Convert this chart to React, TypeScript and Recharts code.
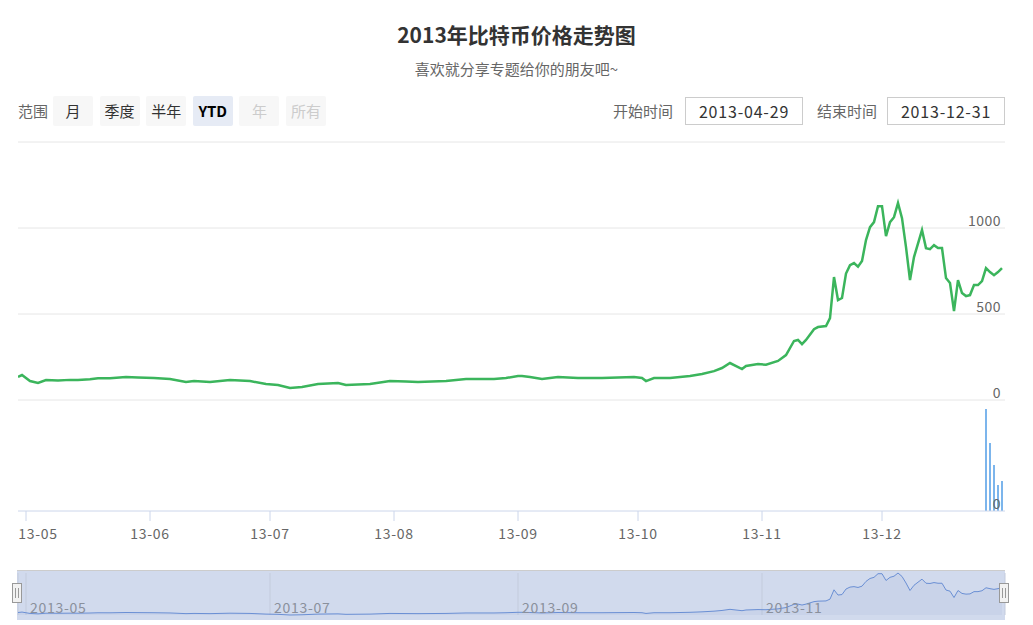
import React from 'react';
import {
  LineChart, Line, BarChart, Bar, AreaChart, Area, XAxis, YAxis, CartesianGrid,
} from 'recharts';

const FONT = '"Microsoft YaHei", "Noto Sans CJK SC", "Noto Sans", sans-serif';

// daily close (USD)
const dates = [
  '2013-04-29', '2013-04-30', '2013-05-02', '2013-05-04', '2013-05-06', '2013-05-09', '2013-05-12',
  '2013-05-14', '2013-05-17', '2013-05-19', '2013-05-22', '2013-05-26', '2013-05-29', '2013-06-02',
  '2013-06-06', '2013-06-10', '2013-06-12', '2013-06-16', '2013-06-21', '2013-06-26', '2013-06-30',
  '2013-07-03', '2013-07-06', '2013-07-09', '2013-07-13', '2013-07-18', '2013-07-20', '2013-07-26',
  '2013-07-31', '2013-08-04', '2013-08-07', '2013-08-14', '2013-08-19', '2013-08-26', '2013-08-29',
  '2013-09-01', '2013-09-02', '2013-09-04', '2013-09-07', '2013-09-11', '2013-09-16', '2013-09-22',
  '2013-09-26', '2013-09-30', '2013-10-02', '2013-10-03', '2013-10-05', '2013-10-09', '2013-10-14',
  '2013-10-17', '2013-10-20', '2013-10-22', '2013-10-24', '2013-10-27', '2013-10-28', '2013-10-31',
  '2013-11-02', '2013-11-05', '2013-11-07', '2013-11-09', '2013-11-10', '2013-11-11', '2013-11-12',
  '2013-11-14', '2013-11-15', '2013-11-17', '2013-11-18', '2013-11-19', '2013-11-20', '2013-11-21',
  '2013-11-22', '2013-11-23', '2013-11-24', '2013-11-25', '2013-11-26', '2013-11-27', '2013-11-28',
  '2013-11-29', '2013-11-30', '2013-12-01', '2013-12-02', '2013-12-03', '2013-12-04', '2013-12-05',
  '2013-12-06', '2013-12-07', '2013-12-08', '2013-12-09', '2013-12-11', '2013-12-12', '2013-12-13',
  '2013-12-14', '2013-12-15', '2013-12-16', '2013-12-17', '2013-12-18', '2013-12-19', '2013-12-20',
  '2013-12-21', '2013-12-22', '2013-12-23', '2013-12-24', '2013-12-25', '2013-12-26', '2013-12-27',
  '2013-12-28', '2013-12-29', '2013-12-30', '2013-12-31',
];
const prices = [
  134, 145, 110, 99, 116, 114, 117,
  116, 121, 127, 126, 134, 131, 128,
  122, 105, 110, 105, 116, 110, 93,
  87, 70, 76, 93, 99, 87, 93,
  110, 107, 105, 110, 122, 122, 128,
  139, 139, 134, 122, 134, 128, 128,
  131, 134, 128, 110, 128, 128, 139,
  151, 168, 186, 215, 180, 198, 209,
  205, 227, 261, 343, 349, 325, 349,
  412, 424, 430, 476, 715, 581, 593,
  735, 784, 796, 775, 808, 930, 1005,
  1034, 1127, 1127, 953, 1034, 1063, 1145,
  1057, 889, 697, 831, 988, 883, 877,
  900, 883, 883, 709, 680, 517, 697,
  622, 604, 610, 668, 668, 691, 767,
  744, 726, 744, 767,
];

const volumeDates = ['2013-12-27', '2013-12-28', '2013-12-29', '2013-12-30', '2013-12-31'];
const volumes = [9360, 6240, 4220, 2390, 2750];

const monthTicks = [
  '2013-05-01', '2013-06-01', '2013-07-01', '2013-08-01',
  '2013-09-01', '2013-10-01', '2013-11-01', '2013-12-01',
];
const navTicks = ['2013-05-01', '2013-07-01', '2013-09-01', '2013-11-01'];
const priceTicks = [0, 500, 1000, 1500];
const volumeTicks = [0];

const rangeButtons = ['月', '季度', '半年', 'YTD', '年', '所有'];
const selectedButton = 'YTD';
const disabledButtons = ['年', '所有'];
const startDate = '2013-04-29';
const endDate = '2013-12-31';

const PLOT_LEFT = 18;
const PLOT_RIGHT = 1005;

const t = (d: string) => Date.parse(d);
const priceData = dates.map((d, i) => ({ t: t(d), price: prices[i] }));
const volumeData = volumeDates.map((d, i) => ({ t: t(d), volume: volumes[i] }));
const X_DOMAIN = [t(startDate), t(endDate) + 18 * 3600 * 1000];

const pad = (n: number) => (n < 10 ? '0' + n : '' + n);

const AxisLabelRight = (props: any) => {
  const { y, payload } = props;
  if (payload.value >= 1500) return <g />;
  return (
    <text x={PLOT_RIGHT - 4} y={y - 7} dy={5} textAnchor="end" fill="#666" fontSize={14}
      fontFamily={FONT} letterSpacing={0.5}>
      {payload.value}
    </text>
  );
};

const MonthTick = (props: any) => {
  const { x, y, payload } = props;
  const d = new Date(payload.value);
  const label = String(d.getUTCFullYear()).slice(2) + '-' + pad(d.getUTCMonth() + 1);
  const cx = Math.max(x, PLOT_LEFT + 20);
  return (
    <text x={cx} y={y} dy={14} textAnchor="middle" fill="#666" fontSize={14} fontFamily={FONT}
      letterSpacing={0.7}>
      {label}
    </text>
  );
};

const NavTick = (props: any) => {
  const { x, y, payload } = props;
  const d = new Date(payload.value);
  const label = d.getUTCFullYear() + '-' + pad(d.getUTCMonth() + 1);
  return (
    <text x={x + 4} y={y - 2} textAnchor="start" fill="#8a909c" fontSize={14} fontFamily={FONT}
      letterSpacing={0.7}>
      {label}
    </text>
  );
};

const Handle = ({ x }: { x: number }) => (
  <g>
    <rect x={x - 4.5} y={583.5} width={9} height={19} fill="#f2f2f2" stroke="#999" />
    <line x1={x - 1.5} y1={588} x2={x - 1.5} y2={598} stroke="#999" />
    <line x1={x + 1.5} y1={588} x2={x + 1.5} y2={598} stroke="#999" />
  </g>
);

export default function App() {
  return (
    <div style={{ position: 'absolute', left: 0, top: 0, width: 1033, height: 625, background: '#fff', fontFamily: FONT, overflow: 'hidden' }}>
      <div style={{ position: 'absolute', left: 0, width: 1033, top: 19, textAlign: 'center', fontSize: 21, fontWeight: 'bold', color: '#333' }}>
        2013年比特币价格走势图
      </div>
      <div style={{ position: 'absolute', left: 0, width: 1033, top: 58, textAlign: 'center', fontSize: 15, color: '#666' }}>
        喜欢就分享专题给你的朋友吧~
      </div>

      {/* range selector */}
      <div style={{ position: 'absolute', left: 18, top: 100, fontSize: 15, color: '#666' }}>范围</div>
      {rangeButtons.map((b, i) => {
        const sel = b === selectedButton;
        const dis = disabledButtons.includes(b);
        return (
          <div key={b} style={{
            position: 'absolute', left: 53 + i * 46.6, top: 96, width: 40, height: 30, lineHeight: '30px',
            textAlign: 'center', fontSize: 15, borderRadius: 2,
            background: sel ? '#e6ebf5' : '#f7f7f7',
            color: dis ? '#cccccc' : sel ? '#000' : '#333',
            fontWeight: sel ? 'bold' : 'normal',
          }}>{b}</div>
        );
      })}

      <div style={{ position: 'absolute', left: 613, top: 100, fontSize: 15, color: '#666' }}>开始时间</div>
      <div style={{ position: 'absolute', left: 685, top: 97, width: 116, height: 26, border: '1px solid #ccc', textAlign: 'center', lineHeight: '26px', fontSize: 16, letterSpacing: 0.8, color: '#333' }}>{startDate}</div>
      <div style={{ position: 'absolute', left: 817, top: 100, fontSize: 15, color: '#666' }}>结束时间</div>
      <div style={{ position: 'absolute', left: 887, top: 97, width: 116, height: 26, border: '1px solid #ccc', textAlign: 'center', lineHeight: '26px', fontSize: 16, letterSpacing: 0.8, color: '#333' }}>{endDate}</div>

      {/* price panel */}
      <div style={{ position: 'absolute', left: 0, top: 0 }}>
        <LineChart width={1033} height={410} data={priceData} margin={{ top: 142, right: 1033 - PLOT_RIGHT - 1, left: PLOT_LEFT, bottom: 10 }}>
          <CartesianGrid vertical={false} stroke="#e6e6e6" />
          <XAxis dataKey="t" type="number" domain={X_DOMAIN} hide allowDataOverflow />
          <YAxis orientation="right" width={1} domain={[0, 1500]} ticks={priceTicks} interval={0}
            axisLine={false} tickLine={false} tick={<AxisLabelRight />} />
          <Line type="linear" dataKey="price" stroke="#3bb55c" strokeWidth={2.5} dot={false} isAnimationActive={false} />
        </LineChart>
      </div>

      {/* volume panel + x axis */}
      <div style={{ position: 'absolute', left: 0, top: 0 }}>
        <BarChart width={1033} height={560} data={volumeData} margin={{ top: 402, right: 1033 - PLOT_RIGHT - 1, left: PLOT_LEFT, bottom: 0 }}>
          <XAxis dataKey="t" type="number" domain={X_DOMAIN} ticks={monthTicks.map(t)} height={49}
            axisLine={{ stroke: '#ccd6eb' }} tickLine={{ stroke: '#ccd6eb' }} tickSize={10} tickMargin={4}
            tick={<MonthTick />} interval={0} allowDataOverflow />
          <YAxis orientation="right" width={1} domain={[0, 10000]} ticks={volumeTicks} interval={0}
            axisLine={false} tickLine={false} tick={<AxisLabelRight />} />
          <Bar dataKey="volume" fill="#7cb5ec" barSize={2} isAnimationActive={false} />
        </BarChart>
      </div>

      {/* navigator */}
      <div style={{ position: 'absolute', left: 17, top: 570, width: 988, height: 50, background: '#d1daed', borderTop: '1px solid #cccccc', boxSizing: 'border-box' }} />
      <div style={{ position: 'absolute', left: 0, top: 570 }}>
        <AreaChart width={1033} height={50} data={priceData} margin={{ top: 3, right: 1033 - PLOT_RIGHT - 1, left: PLOT_LEFT, bottom: 4 }}>
          <CartesianGrid horizontal={false} stroke="#c3cbdc" />
          <XAxis dataKey="t" type="number" domain={X_DOMAIN} ticks={navTicks.map(t)} height={1}
            axisLine={false} tickLine={false} tickSize={0} tickMargin={0} tick={<NavTick />} interval={0} />
          <YAxis orientation="right" width={1} domain={['dataMin', 'dataMax']} tick={false} axisLine={false} tickLine={false} />
          <Area type="linear" dataKey="price" stroke="#6a8fd4" strokeWidth={1} fill="#335cad" fillOpacity={0.05}
            dot={false} isAnimationActive={false} />
        </AreaChart>
      </div>
      <svg width={1033} height={625} style={{ position: 'absolute', left: 0, top: 0, pointerEvents: 'none' }}>
        <Handle x={PLOT_LEFT - 1} />
        <Handle x={PLOT_RIGHT - 1} />
      </svg>
    </div>
  );
}
